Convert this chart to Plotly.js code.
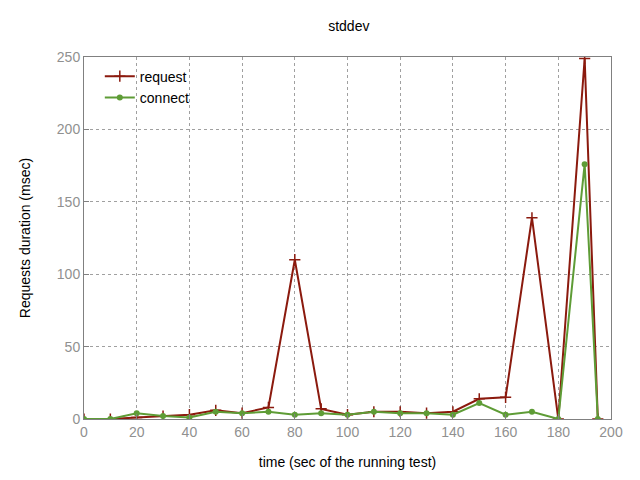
<!DOCTYPE html>
<html>
<head>
<script src="https://cdn.plot.ly/plotly-3.0.1.min.js"></script>
<style>body{margin:0}</style>
</head>
<body>
<div id="chart" style="width:640px;height:480px"></div>
<script>
// time points (sec) and stddev values
const times = [0, 10, 20, 30, 40, 50, 60, 70, 80, 90, 100, 110, 120, 130, 140, 150, 160, 170, 180, 190, 195];
const requestVals = [0, 0, 1, 2, 3, 6, 4, 8, 110, 7, 3, 5, 5, 4, 5, 14, 15, 139, 0, 249, 0];
const connectVals = [0, 0, 4, 2, 1, 5, 4, 5, 3, 4, 3, 5, 4, 4, 3, 11, 3, 5, 0, 176, 0];

const traces = [
    {
        x: times, y: requestVals, name: 'request', mode: 'lines+markers',
        line: { color: '#8b1a0e', width: 2 },
        marker: { symbol: 'cross-thin', size: 8, line: { color: '#8b1a0e', width: 1.5 } }
    },
    {
        x: times, y: connectVals, name: 'connect', mode: 'lines+markers',
        line: { color: '#5e9c36', width: 2 },
        marker: { symbol: 'circle', size: 6, color: '#5e9c36' }
    }
];

const gridStyle = { showgrid: true, gridcolor: '#a0a0a0', griddash: 'dot', gridwidth: 1 };

Plotly.newPlot('chart', traces, {
    width: 640, height: 480,
    font: { family: 'Liberation Sans, Arial', size: 14, color: '#000' },
    title: { text: 'stddev', x: 0.545, y: 0.955, font: { size: 14 } },
    margin: { l: 84, r: 29, t: 57, b: 61 },
    showlegend: true,
    legend: { x: 0.03, y: 0.99, xanchor: 'left', yanchor: 'top', bgcolor: 'rgba(0,0,0,0)', font: { size: 14 } },
    xaxis: Object.assign({
        range: [0, 200], dtick: 20, zeroline: false,
        showline: true, mirror: true, linecolor: '#808080',
        ticks: 'inside', tickcolor: '#808080', tickfont: { color: '#909090' },
        title: { text: 'time (sec of the running test)', font: { size: 14 }, standoff: 18 }
    }, gridStyle),
    yaxis: Object.assign({
        range: [0, 250], dtick: 50, zeroline: false,
        showline: true, mirror: true, linecolor: '#808080',
        ticks: 'inside', tickcolor: '#808080', tickfont: { color: '#909090' },
        title: { text: 'Requests duration (msec)', font: { size: 14 }, standoff: 22 }
    }, gridStyle),
    plot_bgcolor: '#fff', paper_bgcolor: '#fff'
}, { displayModeBar: false });
</script>
</body>
</html>
